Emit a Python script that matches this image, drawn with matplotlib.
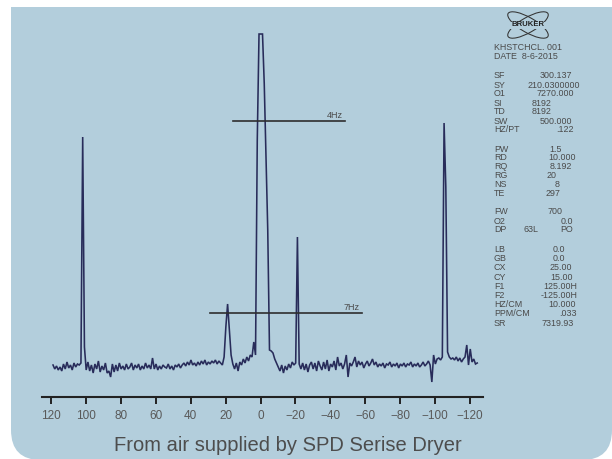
import numpy as np
import matplotlib
matplotlib.use("Agg")
import matplotlib.pyplot as plt
from matplotlib.patches import FancyBboxPatch, Rectangle, Ellipse

# ---------------- data ----------------
intensity = [
    2, -2, 1, -3, 0, -4, 3, -2, 5, -1, 2, -3, 4, 0, 3, 2, 4,
    230, 20,
    -3, 5, -4, 2, -6, 3, -2, 6, -5, 1, -3, 4, -6,
    -4, -10, 3, -5, 2, -4, 4, -2, 1, -3, 3, -2, 0, 4, -3, 2, -1, 3, -3, 1, -2, 4, -1, 2, -2,
    9,
    -2, 3, -3, 1, -2, 2, 0, -1, 3, -2, 1, -3, 2, 0, 3, -1, 2, 4, 1, 5,
    2, 7, 2, 4, 1, 5, 2, 6, 3, 7, 2, 5, 3, 6, 4, 7, 3, 6, 4,
    2, 10, 40, 63, 38, 12, 3,
    -2, 4, -4, 5, 2, 8, 4, 10, 6, 12, 10, 25, 12,
    227, 333, 333, 333, 283, 208, 137, 17, 16, 14, 8, 4, 0, -4, 2, -6, 1, -3, 3, -1, 5, 2, 4,
    130, 3,
    -2, 4, -3, 3, -5, 2, 5, -2, 4, -4, 6, 1, -3, 5, -2, 7, -4, 3, 0, 6,
    -3, 10, 1, 4, -2, 3, 12, -10, 4, 1, 5, 10, 0, 6, 2, 5, -1, 3, 6, 1,
    4, 8, 2, 5, 0, 3, 1, 4, -1, 3, 2, 5, 0, 3, 1, 4, -1, 3, 1, 4,
    0, 3, 2, 5, 0, 3, 1, 4, 0, 2, 5, 1, 3, 6, 2, -15, 12, 3, 8, 9,
    7, 10, 244, 180, 15, 10, 8, 9, 7, 10, 6, 9, 5, 8, 10, 22, 2, 18, 5, 8,
    3, 4,
]
shift_first, shift_last = 118.85, -124.15
shift = np.linspace(shift_first, shift_last, len(intensity))

tick_values = [120, 100, 80, 60, 40, 20, 0, -20, -40, -60, -80, -100, -120]
tick_labels = ["120", "100", "80", "60", "40", "20", "0", "\u221220", "\u221240",
               "\u221260", "\u221280", "\u2212100", "\u2212120"]

marker_labels = ["4Hz", "7Hz"]
marker_start = [15.8, 28.9]
marker_end = [-48.4, -58.1]
marker_level = [246, 54]

caption = "From air supplied by SPD Serise Dryer"
header_lines = ["KHSTCHCL. 001", "DATE  8-6-2015"]

acq_labels = ["SF", "SY", "O1", "SI", "TD", "SW", "HZ/PT"]
acq_values = ["300.137", "210.0300000", "7270.000", "8192", "8192", "500.000", ".122"]
pulse_labels = ["PW", "RD", "RQ", "RG", "NS", "TE"]
pulse_values = ["1.5", "10.000", "8.192", "20", "8", "297"]
filter_labels = ["FW", "O2", "DP"]
filter_values = ["700", "0.0", "63L PO"]
proc_labels = ["LB", "GB", "CX", "CY", "F1", "F2", "HZ/CM", "PPM/CM", "SR"]
proc_values = ["0.0", "0.0", "25.00", "15.00", "125.00H", "-125.00H", "10.000", ".033", "7319.93"]

# ---------------- layout ----------------
W, H = 612, 459
fig = plt.figure(figsize=(W / 100, H / 100), dpi=100)
fig.patch.set_facecolor("white")

PANEL = "#b3cedc"
TXT = "#4a4a4a"
FONT = ["Liberation Sans", "DejaVu Sans"]

bg = fig.add_axes([0, 0, 1, 1], zorder=0)
bg.set_xlim(0, W)
bg.set_ylim(H, 0)
bg.axis("off")
bg.add_patch(FancyBboxPatch((11, 7), 601, 453, boxstyle="round,pad=0,rounding_size=30",
                            facecolor=PANEL, edgecolor="none"))
bg.add_patch(Rectangle((11, 7), 601, 120, facecolor=PANEL, edgecolor="none"))

# main spectrum axes
ax_l, ax_r, ax_b, ax_t = 42, 483, 397, 20
ax = fig.add_axes([ax_l / W, 1 - ax_b / H, (ax_r - ax_l) / W, (ax_b - ax_t) / H], zorder=2)
ax.set_facecolor("none")
ax.plot(shift, intensity, color="#282c5a", lw=1.15, solid_joinstyle="miter")
for lab, xs, xe, lv in zip(marker_labels, marker_start, marker_end, marker_level):
    ax.plot([xs, xe], [lv, lv], color="#2e2e2e", lw=1.2)
    ax.annotate(lab, xy=(xe, lv), xytext=(-1.5, 2.0), textcoords="offset points",
                ha="right", va="baseline", fontsize=6.5, color=TXT, family=FONT)
ax.set_xlim(125.16, -127.45)
ax.set_ylim(-30, 347)
for s in ["top", "left", "right"]:
    ax.spines[s].set_visible(False)
ax.spines["bottom"].set_color("#222222")
ax.spines["bottom"].set_linewidth(1.5)
ax.set_yticks([])
ax.set_xticks(tick_values)
ax.set_xticklabels(tick_labels, family=FONT, fontsize=8.5, color="#595959")
ax.tick_params(axis="x", direction="out", length=5, width=1.4, color="#222222", pad=4.3)

# caption
bg.text(288, 451, caption, ha="center", va="baseline", fontsize=14.5, color="#4d4d4d",
        family=FONT)

# right info column
LX = 494
FS = 6.4
header_y = [47.3, 56.7]
for t, y in zip(header_lines, header_y):
    bg.text(LX, y, t, ha="left", va="center", fontsize=FS, color=TXT, family=FONT)

groups = [
    (acq_labels, acq_values, 76.0, 9.0, [540, 527.5, 536.5, 532, 532, 540, 556]),
    (pulse_labels, pulse_values, 149.0, 8.9, [549, 548, 550, 547, 555, 546]),
    (filter_labels, filter_values, 212.0, 9.0, [548, 561, 524]),
    (proc_labels, proc_values, 249.5, 9.2, [553, 553, 550, 550, 543.5, 541, 548.5, 559, 541]),
]
for labels, values, y0, dy, vx in groups:
    for k, (lab, val) in enumerate(zip(labels, values)):
        y = y0 + k * dy
        bg.text(LX, y, lab, ha="left", va="center", fontsize=FS, color=TXT, family=FONT)
        parts = val.split(" ")
        bg.text(vx[k], y, parts[0], ha="left", va="center", fontsize=FS, color=TXT, family=FONT)
        if len(parts) > 1:
            bg.text(560, y, parts[1], ha="left", va="center", fontsize=FS, color=TXT, family=FONT)

# Bruker logo
cx, cy = 528, 25
for ang in (30, -30):
    bg.add_patch(Ellipse((cx, cy), 46, 15, angle=ang, fill=False, edgecolor="#333333", lw=0.75))
bg.add_patch(Rectangle((cx - 19, cy - 3.5), 38, 7, facecolor=PANEL, edgecolor="none"))
bg.text(cx, cy, "BRUKER", ha="center", va="center", fontsize=5.6, fontweight="bold",
        color="#222222", family=FONT)

fig.savefig("out.png", dpi=100, facecolor="white")
